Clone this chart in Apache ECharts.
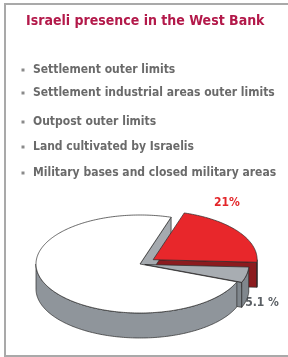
<!DOCTYPE html>
<html>
<head>
<meta charset="utf-8">
<script src="https://cdn.jsdelivr.net/npm/echarts@6/dist/echarts.min.js"></script>
<style>
  html, body { margin: 0; padding: 0; background: #fff; overflow: hidden; }
  #main { width: 288px; height: 357px; }
</style>
</head>
<body>
<div id="main"></div>
<script>
// 数据
const titleText = 'Israeli presence in the West Bank';
const legendItems = [
  'Settlement outer limits',
  'Settlement industrial areas outer limits',
  'Outpost outer limits',
  'Land cultivated by Israelis',
  'Military bases and closed military areas'
];
const sliceNames = ['Israeli presence', 'Rest of the West Bank', 'Closed military areas'];
const sliceValues = [21, 73.9, 5.1];
const sliceLabels = ['21%', '', '5.1 %'];

// 样式 / 位置
const FONT = '"Liberation Sans Narrow", "DejaVu Sans Condensed", "Liberation Sans", sans-serif';
const PIE = { cx: 140, cy: 264, rx: 104, ry: 49, depth: 25, startAngle: -3 };
const explode = [16, 0, 5];
const topColors = ['#e8272b', '#ffffff', '#a8adb2'];
const sideColors = ['#8c1b1e', '#8f959b', '#80878d'];
const cutColors = ['#8c1b1e', '#a5aaaf', '#80878d'];
const legendY = [70, 93, 122, 147, 173];
const labelPos = [[227, 203, '#e3262a'], null, [262, 303, '#5a5f64']];

const total = sliceValues.reduce((s, v) => s + v, 0);
const starts = [];
let acc = 0;
sliceValues.forEach(v => { starts.push(PIE.startAngle + acc / total * 360); acc += v; });

function renderItem(params, api) {
  const i = params.dataIndex;
  const a0 = starts[i];
  const a1 = a0 + api.value(1) / total * 360;
  const mid = (a0 + a1) / 2 * Math.PI / 180;
  const ox = explode[i] * Math.cos(mid);
  const oy = explode[i] * Math.sin(mid);
  const k = PIE.ry / PIE.rx;
  const pt = (deg, r, drop) => {
    const t = deg * Math.PI / 180;
    return [PIE.cx + ox + r * PIE.rx * Math.cos(t), PIE.cy - (oy + r * PIE.rx * Math.sin(t)) * k + drop];
  };
  const arc = (from, to, drop) => {
    const pts = [];
    const n = Math.max(2, Math.ceil(Math.abs(to - from)));
    for (let s = 0; s <= n; s++) pts.push(pt(from + (to - from) * s / n, 1, drop));
    return pts;
  };
  const line = { stroke: '#2a2a2a', lineWidth: 0.7, lineJoin: 'round' };
  const children = [];

  // 切面
  [[a0, Math.cos(a0 * Math.PI / 180) > 0], [a1, Math.cos(a1 * Math.PI / 180) < 0]].forEach(([ang, vis]) => {
    if (!vis) return;
    children.push({
      type: 'polygon', z2: 1,
      shape: { points: [pt(ang, 0, 0), pt(ang, 1, 0), pt(ang, 1, PIE.depth), pt(ang, 0, PIE.depth)] },
      style: Object.assign({ fill: cutColors[i] }, line)
    });
  });

  // 外侧面（前半部分）
  [[180, 360], [-180, 0]].forEach(([lo, hi]) => {
    const f0 = Math.max(a0, lo), f1 = Math.min(a1, hi);
    if (f1 <= f0) return;
    const topArc = arc(f0, f1, 0);
    const botArc = arc(f0, f1, PIE.depth).reverse();
    children.push({
      type: 'polygon', z2: 2,
      shape: { points: topArc.concat(botArc) },
      style: Object.assign({ fill: sideColors[i] }, line)
    });
  });

  // 顶面
  children.push({
    type: 'polygon', z2: 3,
    shape: { points: [pt(a0, 0, 0)].concat(arc(a0, a1, 0)) },
    style: Object.assign({ fill: topColors[i] }, line)
  });

  return { type: 'group', children };
}

const graphic = [
  {
    // 外框：左、上、下三条边
    type: 'polyline', silent: true,
    shape: { points: [[300, 4], [5, 4], [5, 356], [300, 356]] },
    style: { fill: 'none', stroke: '#a9a9a9', lineWidth: 2 }
  },
  {
    type: 'text', left: 26, top: 14,
    style: { text: titleText, fill: '#b3194a', font: 'bold 14px ' + FONT }
  }
];
legendItems.forEach((t, i) => {
  graphic.push({
    type: 'rect', silent: true,
    shape: { x: 21.5, y: legendY[i] - 1.5, width: 3, height: 3 },
    style: { fill: '#8a8a8a' }
  });
  graphic.push({
    type: 'text', x: 33, y: legendY[i],
    style: { text: t, fill: '#6a6a6a', font: 'bold 12px ' + FONT, textVerticalAlign: 'middle' }
  });
});
sliceLabels.forEach((t, i) => {
  if (!t) return;
  const p = labelPos[i];
  graphic.push({
    type: 'text', x: p[0], y: p[1],
    style: { text: t, fill: p[2], font: 'bold 12px ' + FONT, textAlign: 'center', textVerticalAlign: 'middle' }
  });
});

const myChart = echarts.init(document.getElementById('main'));
myChart.setOption({
  animation: false,
  graphic: graphic,
  series: [{
    type: 'custom',
    coordinateSystem: 'none',
    silent: true,
    renderItem: renderItem,
    data: sliceNames.map((n, i) => ({ name: n, value: [i, sliceValues[i]] }))
  }]
});
</script>
</body>
</html>
